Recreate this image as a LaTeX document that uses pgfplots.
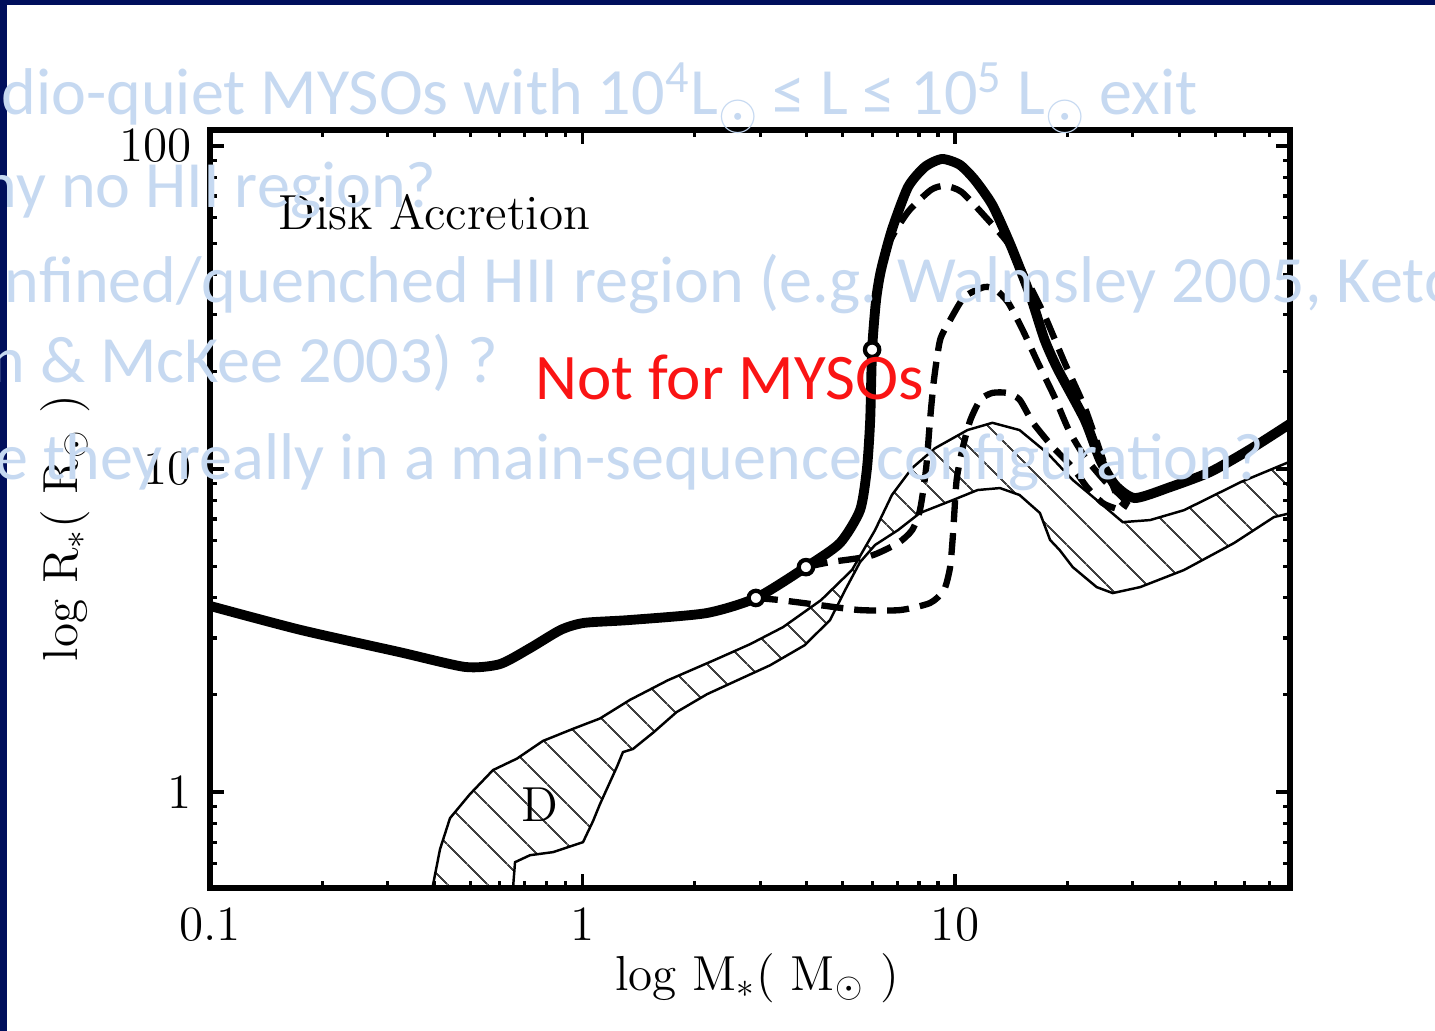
\documentclass[border=0pt]{standalone}
\usepackage{fontspec}
\usepackage{pgfplots}
\pgfplotsset{compat=1.18}
\usetikzlibrary{patterns.meta}
\newfontfamily\slidefont{Carlito}
\definecolor{slideblue}{RGB}{198,217,241}
\definecolor{slidenavy}{RGB}{0,15,92}
\definecolor{alertred}{RGB}{250,20,20}
% solar symbol used in the slide text
\newcommand{\sun}{\raisebox{-4.2pt}{\fontsize{15}{15}\selectfont$\odot$}}
\begin{document}
\begin{tikzpicture}
\useasboundingbox (0,0) rectangle (14.35,10.31);
\clip (0,0) rectangle (14.35,10.31);
\fill[white] (0,0) rectangle (14.35,10.31);
\fill[slidenavy] (0,10.26) rectangle (14.35,10.31);
\fill[slidenavy] (0,0) rectangle (0.07,10.31);
\begin{axis}[
  at={(2.10cm,1.43cm)}, anchor=south west,
  scale only axis, width=10.80cm, height=7.58cm,
  xmode=log, ymode=log,
  xmin=0.1, xmax=79.3, ymin=0.505, ymax=112,
  xtick={0.1,1,10}, xticklabels={0.1,1,10},
  ytick={1,10,100}, yticklabels={1,10,100},
  minor xtick={0.2,0.3,0.4,0.5,0.6,0.7,0.8,0.9,2,3,4,5,6,7,8,9,20,30,40,50,60,70},
  minor ytick={0.6,0.7,0.8,0.9,2,3,4,5,6,7,8,9,20,30,40,50,60,70,80,90},
  tick align=inside,
  major tick length=1.4mm, minor tick length=0.7mm,
  every major tick/.append style={line width=1.1pt, black},
  every minor tick/.append style={line width=0.9pt, black},
  axis line style={line width=1.6pt},
  tick label style={font=\fontsize{14}{16}\selectfont},
  yticklabel style={xshift=-0.6mm},
  xticklabel style={yshift=-0.7mm},
  axis on top,
]
% hatched band of the accreting protostar
\addplot[line width=0.7pt, black, pattern={Lines[angle=-45,distance=2.8mm,line width=0.55pt]}, pattern color=black!75] coordinates {
 (0.3896,0.463) (0.4145,0.666) (0.4409,0.831) (0.4989,0.986) (0.575,1.17) (0.667,1.27)
 (0.783,1.44) (0.943,1.57) (1.114,1.69) (1.341,1.93) (1.696,2.22) (2.255,2.56)
 (2.818,2.87) (3.453,3.24) (4.37,3.93) (5.29,4.87) (6.10,6.47) (6.77,8.31)
 (7.67,10.07) (8.84,11.6) (10.8,13.2) (12.6,13.9) (14.9,13.2) (17.7,11.2)
 (20.7,9.25) (24.0,8.02) (28.2,6.85) (33.4,6.95) (41.2,7.46) (58.6,9.12) (81.8,10.7)
 (81.8,7.36) (71.8,7.10) (56.1,5.90) (41.2,4.87) (31.4,4.31) (26.5,4.13) (24.0,4.31)
 (20.7,4.97) (19.1,5.61) (18.0,6.03) (16.9,7.31) (14.9,8.31) (13.2,8.73) (11.5,8.61)
 (9.88,8.02) (8.05,7.31) (7.03,6.47) (6.10,5.82) (5.56,5.15) (5.07,4.22) (4.62,3.41)
 (3.95,2.85) (3.19,2.47) (2.54,2.19) (2.16,2.01) (1.79,1.77) (1.55,1.53) (1.366,1.36)
 (1.284,1.33) (1.238,1.20) (1.114,0.918) (1.067,0.813) (1.003,0.700) (0.833,0.652)
 (0.723,0.638) (0.659,0.607) (0.647,0.463)
} -- cycle;
% branch leaving at 3 Msun
\addplot[black, line width=1.8pt, dash pattern=on 2.2mm off 1.1mm, smooth, tension=0.4] coordinates {
 (2.92,3.99) (3.39,3.93) (4.34,3.79) (5.56,3.66) (7.12,3.66) (8.57,3.85) (9.34,4.22)
 (9.70,4.97) (9.88,6.34) (10.1,9.25) (10.5,11.7) (11.0,14.2) (11.7,16.4) (12.6,17.2)
 (13.8,17.2) (14.9,16.4) (16.2,13.9) (18.3,11.7) (20.7,10.1) (22.6,8.79) (24.9,7.85) (26.9,7.56)
};
% branch leaving at 4 Msun
\addplot[black, line width=1.8pt, dash pattern=on 2.2mm off 1.1mm, smooth, tension=0.4] coordinates {
 (3.98,4.97) (4.62,5.15) (5.92,5.38) (7.03,5.90) (7.67,6.47) (8.05,7.46) (8.36,10.0)
 (8.57,14.2) (8.78,18.9) (9.12,25.1) (9.70,28.9) (10.6,34.1) (12.0,36.6) (12.9,35.8)
 (13.9,32.7) (15.2,26.9) (16.7,21.3) (18.5,16.7) (20.2,13.2) (22.3,10.9) (25.1,9.25)
 (28.1,8.18) (29.1,7.74)
};
% branch leaving at 6 Msun
\addplot[black, line width=1.8pt, dash pattern=on 2.2mm off 1.1mm, smooth, tension=0.4] coordinates {
 (5.99,23.4) (6.21,35.8) (6.61,49.3) (7.48,62.5) (8.62,73.1) (9.40,75.2) (10.4,72.1)
 (12.0,60.7) (13.9,49.8) (15.6,38.5) (17.5,29.4) (19.7,21.3) (22.3,15.5) (25.1,10.5)
 (27.4,8.13) (29.1,7.62)
};
% fiducial disk accretion track
\addplot[black, line width=2.8pt, smooth, tension=0.4] coordinates {
 (0.1,3.77) (0.1745,3.18) (0.3236,2.71) (0.484,2.44) (0.600,2.49) (0.723,2.79) (0.875,3.18)
 (1.01,3.34) (1.341,3.41) (2.146,3.58) (2.923,3.99) (3.98,4.97) (4.91,5.90) (5.56,7.46)
 (5.80,10.0) (5.92,14.2) (5.99,23.4) (6.14,33.4) (6.33,41.3) (6.77,55.0) (7.48,74.6)
 (8.30,86.1) (9.23,91.1) (10.3,87.4) (11.3,78.5) (12.6,65.6) (14.1,49.3) (15.9,34.6)
 (17.4,25.1) (18.9,20.3) (22.3,14.2) (24.5,10.7) (26.9,8.92) (30.4,8.13) (37.8,8.79)
 (48.4,9.79) (61.9,11.5) (79.3,13.8)
};
\addplot[only marks, mark=*, mark size=0.72mm, mark options={fill=white, draw=black, line width=1.2pt}]
 coordinates {(2.92,3.99) (3.98,4.97) (5.99,23.4)};
\end{axis}
% axis titles and annotations
\node[font=\fontsize{14}{16}\selectfont] at (7.57,0.53) {log M$_*$( M$_\odot$ )};
\node[font=\fontsize{14}{16}\selectfont, rotate=90] at (0.65,5.03) {log R$_*$( R$_\odot$ )};
\node[anchor=base west, inner sep=0, font=\fontsize{14}{16}\selectfont] at (2.78,8.01) {Disk Accretion};
\node[anchor=base, inner sep=0, font=\fontsize{14}{16}\selectfont] at (5.40,2.09) {D};
% slide text laid over the figure
\begin{scope}[every node/.style={anchor=base west, inner sep=0, text=slideblue, font=\slidefont\fontsize{18.8}{22}\selectfont}]
\node at (0.01,9.16) {\llap{Ra}dio-quiet MYSOs with 10\textsuperscript{4}L\sun{} ≤ L ≤ 10\textsuperscript{5} L\sun{} exit};
\node at (-0.18,8.23) {\llap{W}hy no HII region?};
\node at (0.04,7.28) {nfined/quenched HII region (e.g. Walmsley 2005, Keto 2007;};
\node at (-0.10,6.48) {\llap{Ta}n \& McKee 2003) ?};
\node at (-0.05,5.51) {\llap{Ar}e they really in a main-sequence configuration?};
\end{scope}
\node[anchor=base west, inner sep=0, text=alertred, font=\slidefont\fontsize{18.5}{22}\selectfont] at (5.35,6.31) {Not for MYSOs};
\end{tikzpicture}
\end{document}
